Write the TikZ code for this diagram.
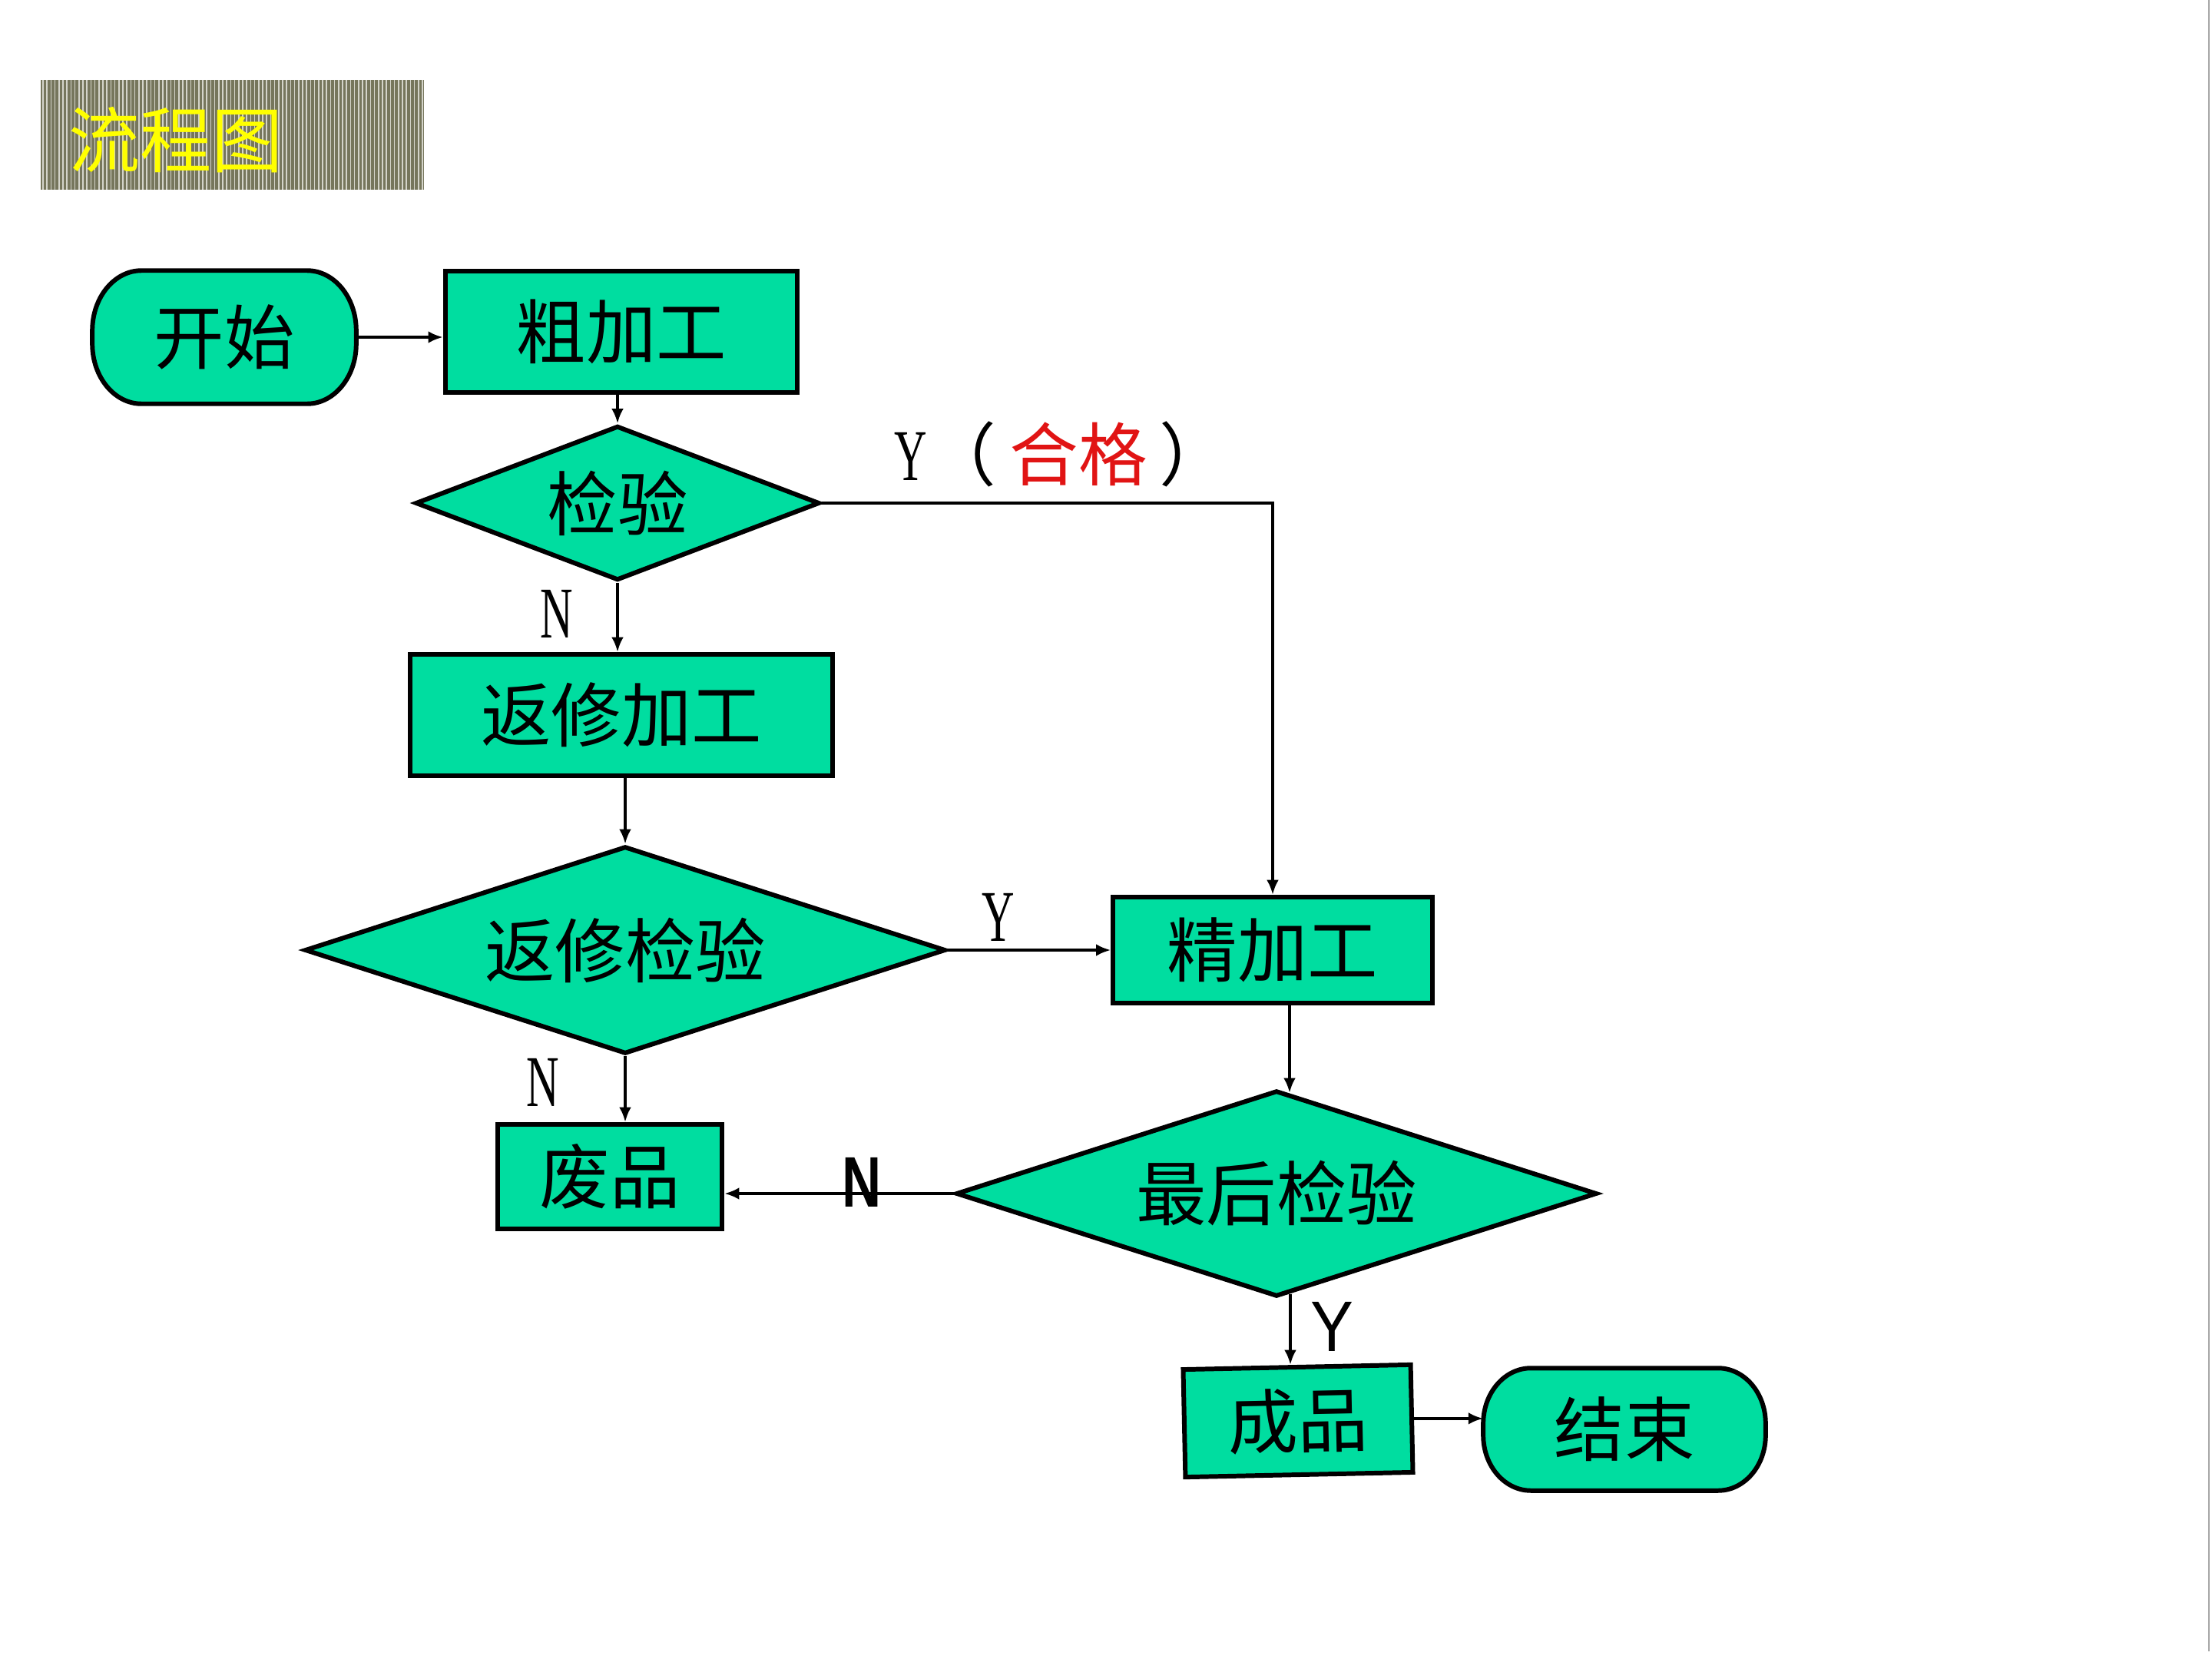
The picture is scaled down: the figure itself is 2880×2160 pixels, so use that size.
\documentclass[tikz,border=0pt]{standalone}
\usepackage{fontspec}
\usepackage{graphicx}
\setmainfont{Liberation Serif}
\newfontfamily\cjk{Noto Sans CJK SC}
\newfontfamily\lsans{Liberation Sans}
\usetikzlibrary{shapes.geometric,arrows.meta,calc,backgrounds}
\definecolor{flow}{RGB}{0,221,160}
\definecolor{titlebg}{RGB}{118,118,92}
\definecolor{titlestripe}{RGB}{212,212,202}
\definecolor{titletext}{RGB}{255,255,0}
\definecolor{hgred}{RGB}{225,20,20}
% stadium outline around a named node: #1 node, #2 corner x radius, #3 corner y radius
\newcommand\stadiumpath[3]{%
  \filldraw[termshape] ($(#1.north west)+(#2,0)$) -- ($(#1.north east)+(-#2,0)$)
  .. controls ($(#1.north east)+({-0.448*#2},0)$) and ($(#1.north east)+(0,{0.448*#3})$) .. ($(#1.north east)+(0,#3)$)
  -- ($(#1.south east)+(0,-#3)$)
  .. controls ($(#1.south east)+(0,{-0.448*#3})$) and ($(#1.south east)+({-0.448*#2},0)$) .. ($(#1.south east)+(-#2,0)$)
  -- ($(#1.south west)+(#2,0)$)
  .. controls ($(#1.south west)+({0.448*#2},0)$) and ($(#1.south west)+(0,{-0.448*#3})$) .. ($(#1.south west)+(0,-#3)$)
  -- ($(#1.north west)+(0,#3)$)
  .. controls ($(#1.north west)+(0,{0.448*#3})$) and ($(#1.north west)+({0.448*#2},0)$) .. cycle;}
\begin{document}
\begin{tikzpicture}[x=0.01cm,y=-0.01cm,
  box/.style={draw, line width=1.7pt, fill=flow, inner sep=0pt, font=\cjk\fontsize{26}{30}\selectfont},
  proc/.style={box, rectangle},
  term/.style={rectangle, inner sep=0pt, font=\cjk\fontsize{26}{30}\selectfont},
  termshape/.style={draw, line width=1.7pt, fill=flow},
  dec/.style={box, diamond, aspect=3},
  arr/.style={line width=1.1pt, -{Latex[length=5.5pt,width=4.5pt]}},
  thinlbl/.style={inner sep=0pt, font=\fontsize{27}{30}\selectfont},
  boldlbl/.style={inner sep=0pt, font=\lsans\fontsize{26.5}{30}\selectfont},
]
\useasboundingbox (0,0) rectangle (2880,2160);
\begin{scope}[on background layer]
  \fill[white] (0,0) rectangle (2880,2160);
\end{scope}
\draw[gray!70, line width=0.8pt] (2876,0) -- (2876,2150);

% title
\fill[titlebg] (53,104) rectangle (552,247);
\foreach \i in {0,...,95} {
  \draw[titlestripe, line width=0.45pt] ({56+\i*5.2},104) -- ({56+\i*5.2},247);
}
\node[inner sep=0pt, text=titletext, font=\cjk\fontsize{26.5}{30}\selectfont] (title) at (229,182) {流程图};

% nodes
\node[term, minimum width=3.42cm, minimum height=1.72cm] (start) at (292,439) {开始};
\node[proc, minimum width=4.58cm, minimum height=1.58cm] (cu) at (809,432) {粗加工};
\node[dec, aspect=2.6, minimum width=5.26cm, minimum height=2.01cm] (jy) at (804,655) {检验};
\node[proc, minimum width=5.50cm, minimum height=1.58cm] (fx) at (809,931) {返修加工};
\node[dec, minimum width=8.34cm, minimum height=2.70cm] (fxjy) at (814,1237) {返修检验};
\node[proc, minimum width=4.15cm, minimum height=1.38cm] (jj) at (1657,1237) {精加工};
\node[proc, minimum width=2.92cm, minimum height=1.36cm] (fp) at (794,1532) {废品};
\node[dec, minimum width=8.34cm, minimum height=2.68cm] (zh) at (1662,1554) {最后检验};
\node[proc, rotate=1.2, minimum width=2.96cm, minimum height=1.40cm] (cp) at (1690,1850) {成品};
\node[term, minimum width=3.66cm, minimum height=1.58cm] (end) at (2115,1861) {结束};

\begin{scope}[on background layer]
  \stadiumpath{start}{64}{78}
  \stadiumpath{end}{62}{72}
\end{scope}

% connectors
\draw[arr] (start.east) -- (cu.west |- start.east);
\draw[arr] (cu.south -| jy.north) -- (jy.north);
\draw[arr] (jy.south) -- (jy.south |- fx.north);
\draw[arr] (fx.south -| fxjy.north) -- (fxjy.north);
\draw[arr] (fxjy.east) -- (jj.west);
\draw[arr] (jy.east) -| (jj.north);
\draw[arr] (fxjy.south) -- (fxjy.south |- fp.north);
\coordinate (p1) at ([xshift=0.22cm]jj.south);
\draw[arr] (p1) -- ($(p1 |- zh.north)+(0,6)$);
\draw[arr] (zh.west) -- (zh.west -| fp.east);
\coordinate (p2) at ([xshift=0.18cm]zh.south);
\draw[arr] ($(p2)+(0,-6)$) -- (p2 |- cp.north);
\draw[arr] (cp.east) -- (end.west |- cp.east);

% labels
\node[thinlbl] (n1) at (725,799) {\scalebox{0.62}[1]{N}};
\node[thinlbl] (y1) at (1300,1194) {\scalebox{0.62}[1]{Y}};
\node[thinlbl] (n2) at (707,1409) {\scalebox{0.62}[1]{N}};
\node[boldlbl] (n3) at (1122,1539) {\scalebox{0.76}[1]{\bfseries N}};
\node[boldlbl] (y2) at (1734,1727) {\scalebox{0.9}[1]{Y}};
\node[inner sep=0pt, anchor=west] (hg) at (1164,591) {{\fontsize{27}{30}\selectfont\scalebox{0.62}[1]{Y}}{\cjk\fontsize{25.5}{28}\selectfont （\hspace{5pt}\textcolor{hgred}{合格}\hspace{4.5pt}）}};
\end{tikzpicture}
\end{document}
